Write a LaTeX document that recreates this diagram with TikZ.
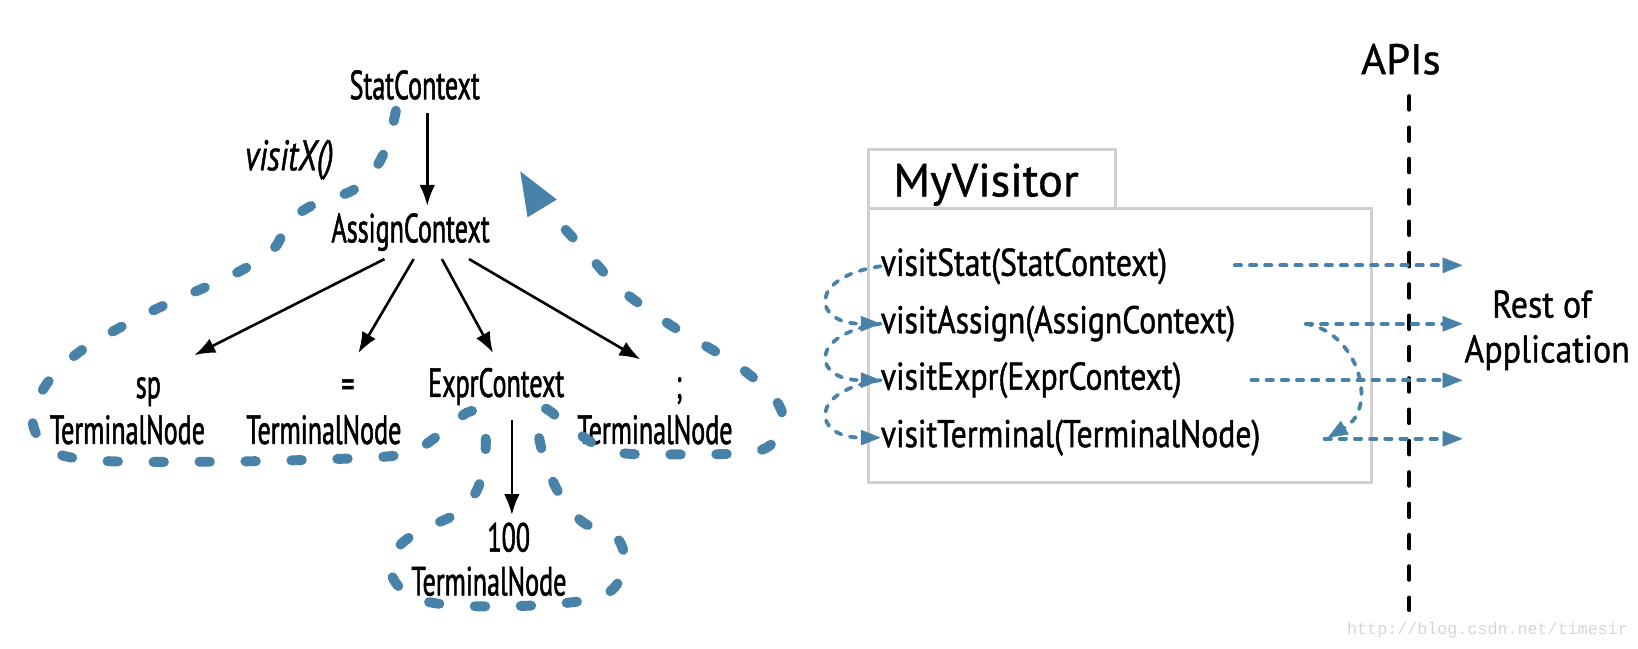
\documentclass[tikz,border=0pt]{standalone}
\usepackage{fontspec}
\setmainfont[FakeStretch=0.9]{PT Sans}
\newfontfamily\treefont[FakeStretch=0.64,FakeBold=1.3]{PT Sans}
\newfontfamily\italfont[FakeStretch=0.74,FakeBold=1.0]{PT Sans}
\newfontfamily\methfont[FakeStretch=0.82,FakeBold=1.1]{PT Sans}
\newfontfamily\widefont[FakeStretch=0.88,FakeBold=0.9]{PT Sans}
\newfontfamily\bigfont[FakeStretch=1.0,FakeBold=0.8]{PT Sans}
\newfontfamily\wmfont{Liberation Mono}
\usetikzlibrary{arrows.meta,calc}
\definecolor{vblue}{RGB}{72,130,168}
\definecolor{boxgray}{RGB}{208,208,208}
\definecolor{wmgray}{RGB}{214,214,214}
\begin{document}
\begin{tikzpicture}[x=1pt,y=-1pt,
  txt/.style={font=\fontsize{39}{44}\treefont, inner sep=0pt, anchor=base},
  wtxt/.style={font=\fontsize{37}{42}\widefont, inner sep=0pt, anchor=base},
  meth/.style={font=\fontsize{37}{42}\methfont, inner sep=0pt, anchor=base west},
  tarr/.style={-{Latex[length=20pt,width=15pt]}, line width=2.5pt},
  loopline/.style={draw=vblue, line width=9.5pt, line cap=round, dash pattern=on 10pt off 34pt},
  bdash/.style={draw=vblue, line width=3.6pt, line cap=round, dash pattern=on 6pt off 8.5pt,
     -{Triangle[length=19pt,width=15pt,line width=0.5pt]}},
  apidash/.style={line width=3.8pt, line cap=round, dash pattern=on 13pt off 17pt},
  boxline/.style={draw=boxgray, line width=3pt}]
\useasboundingbox (0,0) rectangle (1568,621);

% ---------- tree ----------
\node[txt] (stat) at (397,95) {StatContext};
\node[txt, font=\fontsize{41}{46}\italfont\itshape] (visitx) at (277,163) {visitX()};
\node[txt] (assign) at (393,232) {AssignContext};
\node[txt] (sp) at (142,381) {sp};
\node[txt] (spT) at (122,425) {TerminalNode};
\node[txt] (eq) at (333,381) {=};
\node[txt] (eqT) at (310,425) {TerminalNode};
\node[txt] (expr) at (475,380) {ExprContext};
\node[txt] (semi) at (650,381) {;};
\node[txt] (semiT) at (627,425) {TerminalNode};
\node[txt] (hundred) at (487,528) {100};
\node[txt] (hundT) at (468,570) {TerminalNode};

\draw[tarr] ($(stat.base)+(12,13)$) -- ($(assign.base)+(16,-35)$);
\draw[tarr] ($(assign.base)+(-25,16)$) -- ($(sp.base)+(44,-41)$);
\draw[tarr] ($(assign.base)+(3,16)$) -- ($(eq.base)+(10,-43)$);
\draw[tarr] ($(assign.base)+(30,16)$) -- ($(expr.base)+(-3,-42)$);
\draw[tarr] ($(assign.base)+(56,16)$) -- ($(semi.base)+(-37,-37)$);
\draw[tarr] ($(expr.base)+(15,22)$) -- ($(hundred.base)+(3,-35)$);

% ---------- traversal loop ----------
\draw[loopline] plot[smooth, tension=0.55] coordinates {
 (379,106) (372,135) (360,160) (338,182) (300,196) (276,213) (262,238)
 (225,262) (145,298) (80,334) (45,367) (31,402) (48,431) (95,441)
 (200,442) (300,440) (385,435) (422,415) (447,395) (461,397) (465,427)
 (458,466) (438,491) (400,509) (378,528) (376,553) (398,573) (445,580)
 (520,579) (578,570) (598,543) (590,514) (558,500) (535,472) (520,436)
 (514,401) (522,391) (548,411) (585,432) (645,435) (728,431) (749,403)
 (738,377) (700,346) (640,310) (592,275) (560,240) (534,212)};
\fill[vblue] (498,164) -- (533,191) -- (505,208) -- cycle;

% ---------- visitor box ----------
\draw[boxline] (831,200) -- (831,143) -- (1068,143) -- (1068,200);
\draw[boxline] (831,200) rectangle (1313,462);
\node[meth, font=\fontsize{44.5}{50}\bigfont] (myv) at (855,188) {MyVisitor};

\node[meth] (m1) at (843,264) {visitStat(StatContext)};
\node[meth] (m2) at (843,319) {visitAssign(AssignContext)};
\node[meth] (m3) at (843,373) {visitExpr(ExprContext)};
\node[meth] (m4) at (843,428) {visitTerminal(TerminalNode)};

\draw[bdash] (m1.west) .. controls +(-70,10) and +(-65,0) .. (m2.west);
\draw[bdash] (m2.west) .. controls +(-70,10) and +(-65,0) .. (m3.west);
\draw[bdash] (m3.west) .. controls +(-70,10) and +(-65,0) .. (m4.west);

% ---------- APIs ----------
\node[wtxt, font=\fontsize{41}{46}\bigfont] (apis) at (1341,71) {APIs};
\coordinate (apitop) at (1349,92);
\coordinate (apibot) at (1349,584);
\draw[apidash] (apitop) -- (apibot);

\node[wtxt] (rest) at (1476,304) {Rest of};
\node[wtxt] (app) at (1481,347) {Application};

\coordinate (s1) at (1182,254); \coordinate (r1) at (1400,254);
\coordinate (s2) at (1250,310); \coordinate (r2) at (1400,310);
\coordinate (s3) at (1198,364); \coordinate (r3) at (1400,364);
\coordinate (s4) at (1268,420); \coordinate (r4) at (1400,420);
\draw[bdash] (s1) -- (r1);
\draw[bdash] (s2) -- (r2);
\draw[bdash] (s3) -- (r3);
\draw[bdash] (s4) -- (r4);
\draw[bdash] (s2) .. controls (1300,318) and (1320,390) .. (1271,419);

\node[anchor=base, inner sep=0pt, font=\fontsize{16}{18}\wmfont, text=wmgray] (wm) at (1424,607) {http://blog.csdn.net/timesir};
\end{tikzpicture}
\end{document}
